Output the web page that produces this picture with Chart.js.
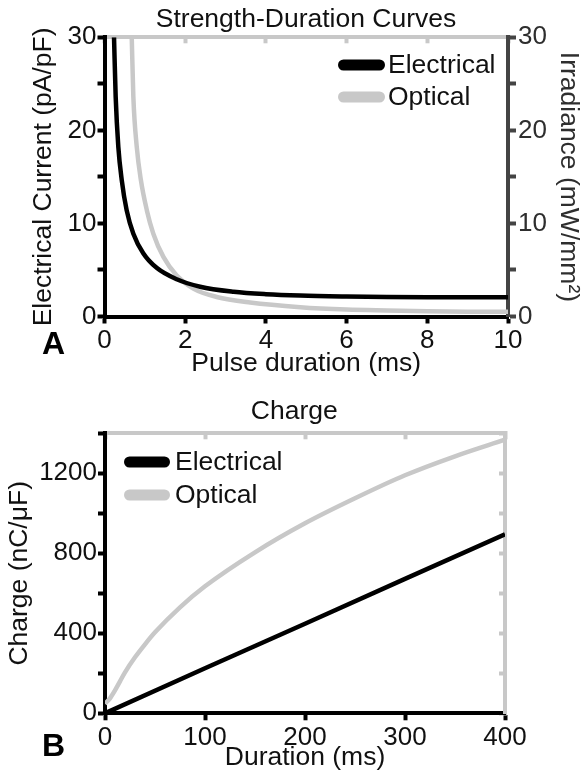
<!DOCTYPE html>
<html>
<head>
<meta charset="utf-8">
<script src="https://cdn.jsdelivr.net/npm/chart.js@4.4.1/dist/chart.umd.min.js"></script>
<style>
html,body{margin:0;padding:0;background:#fff;}
#wrap{position:relative;width:582px;height:773px;overflow:hidden;background:#fff;}
canvas{position:absolute;left:0;}
#c1{top:0;}
#c2{top:390px;}
.panel{position:absolute;font:bold 32px "Liberation Sans",Arial,sans-serif;color:#000;line-height:32px;}
</style>
</head>
<body>
<div id="wrap">
<canvas id="c1" width="582" height="390"></canvas>
<canvas id="c2" width="582" height="383"></canvas>
<div class="panel" style="left:42px;top:327px;">A</div>
<div class="panel" style="left:42px;top:729px;">B</div>
</div>
<script>
// ---- Panel A: strength-duration curves ----
const sdElecT = [0.236, 0.277, 0.343, 0.426, 0.55, 0.715, 0.96, 1.3, 1.79, 2.37, 3.2, 4.0, 4.85, 6, 7, 8, 9, 10];
const sdElecI = [30, 23.6, 18.2, 14.7, 11.4, 8.9, 6.8, 5.2, 4.0, 3.2, 2.66, 2.4, 2.25, 2.15, 2.1, 2.08, 2.08, 2.08];
const sdOptT = [0.675, 0.715, 0.8, 0.9, 1.05, 1.21, 1.46, 1.79, 2.2, 2.78, 3.61, 4.85, 6, 7, 8, 9, 10];
const sdOptI = [30, 23.6, 18.2, 14.7, 11.4, 8.9, 6.4, 4.4, 3.0, 2.1, 1.5, 1.0, 0.75, 0.65, 0.57, 0.52, 0.5];
const sdXTicks = [0, 2, 4, 6, 8, 10];
const sdYLabels = [0, 10, 20, 30];

// ---- Panel B: charge ----
const qElecT = [0, 100, 200, 300, 400];
const qElecQ = [0, 225, 448, 672, 895];
const qOptT = [0, 5, 10, 15, 20, 30, 40, 50, 75, 100, 150, 200, 250, 300, 350, 400];
const qOptQ = [48, 75, 115, 160, 205, 280, 345, 405, 530, 635, 805, 950, 1075, 1190, 1285, 1368];
const qXTicks = [0, 100, 200, 300, 400];
const qYLabels = [0, 400, 800, 1200];

const FONT = '"Liberation Sans", Arial, Helvetica, sans-serif';
Chart.defaults.font.family = FONT;
Chart.defaults.color = '#111';
const BLACK = '#000000';
const GREY = '#c8c8c8';
const DARK = '#444444';
const TXT = '#111111';

const pts = (xs, ys) => xs.map((x, i) => ({x: x, y: ys[i]}));

const insideLegend = {
  id: 'insideLegend',
  afterDatasetsDraw(chart, args, o) {
    const ctx = chart.ctx, ca = chart.chartArea;
    ctx.save();
    chart.data.datasets.forEach((ds, i) => {
      const y = ca.top + o.y0 + i * o.dy;
      const x0 = ca.left + o.x0;
      ctx.strokeStyle = ds.borderColor;
      ctx.lineWidth = o.thick;
      ctx.lineCap = 'round';
      ctx.beginPath();
      ctx.moveTo(x0 + o.thick / 2, y);
      ctx.lineTo(x0 + o.len - o.thick / 2, y);
      ctx.stroke();
      ctx.fillStyle = TXT;
      ctx.font = o.size + 'px ' + FONT;
      ctx.textBaseline = 'middle';
      ctx.textAlign = 'left';
      ctx.fillText(ds.label, x0 + o.len + o.gap, y + 1);
    });
    ctx.restore();
  }
};

function labelOnly(list) {
  return function (v) { return list.includes(v) ? String(v) : ''; };
}

// Panel A
new Chart(document.getElementById('c1'), {
  type: 'line',
  data: {
    datasets: [
      {label: 'Electrical', data: pts(sdElecT, sdElecI), borderColor: BLACK, borderWidth: 4.5,
       pointRadius: 0, cubicInterpolationMode: 'monotone', fill: false, xAxisID: 'x', yAxisID: 'y'},
      {label: 'Optical', data: pts(sdOptT, sdOptI), borderColor: GREY, borderWidth: 4.5,
       pointRadius: 0, cubicInterpolationMode: 'monotone', fill: false, xAxisID: 'x', yAxisID: 'y2'}
    ]
  },
  options: {
    responsive: false, animation: false,
    layout: {padding: {left: 30, right: 0, top: 0, bottom: 0}},
    plugins: {
      legend: {display: false}, tooltip: {enabled: false},
      title: {display: true, text: 'Strength-Duration Curves', color: TXT,
              font: {size: 26.5, weight: 'normal', lineHeight: 1.2}, padding: {top: 4, bottom: 1.5}},
      insideLegend: {x0: 233.5, len: 47, thick: 11, y0: 27.7, dy: 32, gap: 3, size: 26.5}
    },
    scales: {
      x: {
        type: 'linear', position: 'bottom', min: 0, max: 10,
        afterBuildTicks: s => { s.ticks = sdXTicks.map(v => ({value: v})); },
        ticks: {padding: 2, font: {size: 26}, color: TXT, maxRotation: 0, autoSkip: false},
        grid: {drawOnChartArea: false, drawTicks: true, tickLength: 7, tickWidth: 4, tickColor: BLACK},
        border: {color: BLACK, width: 4},
        title: {display: true, text: 'Pulse duration (ms)', color: TXT, font: {size: 26.5, lineHeight: 1}, padding: {top: 0, bottom: 12.75}},
        afterFit: s => { s.height = 73.5; }
      },
      x2: {
        type: 'linear', position: 'top', min: 0, max: 10,
        afterBuildTicks: s => { s.ticks = sdXTicks.map(v => ({value: v})); },
        ticks: {display: false},
        grid: {drawOnChartArea: false, drawTicks: true, tickLength: -6, tickWidth: 4, tickColor: GREY},
        border: {color: GREY, width: 4},
        afterFit: s => { s.height = 0; }
      },
      y: {
        type: 'linear', position: 'left', min: 0, max: 30,
        ticks: {stepSize: 5, padding: 1, font: {size: 26}, color: TXT, callback: labelOnly(sdYLabels)},
        grid: {drawOnChartArea: false, drawTicks: true, tickLength: 7, tickWidth: 4, tickColor: BLACK},
        border: {color: BLACK, width: 4},
        title: {display: true, text: 'Electrical Current (pA/pF)', color: TXT, font: {size: 26.5, lineHeight: 1}, padding: {top: 0, bottom: 0}},
        afterFit: s => { s.width = 74.5; }
      },
      y2: {
        type: 'linear', position: 'right', min: 0, max: 30,
        ticks: {stepSize: 5, padding: 2, font: {size: 26}, color: '#2e2e2e', callback: labelOnly(sdYLabels)},
        grid: {drawOnChartArea: false, drawTicks: true, tickLength: 8, tickWidth: 4, tickColor: DARK},
        border: {color: DARK, width: 4},
        title: {display: true, text: 'Irradiance (mW/mm²)', color: '#2e2e2e', font: {size: 26.5, lineHeight: 1}, padding: {top: 0, bottom: 0}},
        afterFit: s => { s.width = 74; }
      }
    }
  },
  plugins: [insideLegend]
});

// Panel B
new Chart(document.getElementById('c2'), {
  type: 'line',
  data: {
    datasets: [
      {label: 'Electrical', data: pts(qElecT, qElecQ), borderColor: BLACK, borderWidth: 4.5,
       pointRadius: 0, tension: 0, fill: false, xAxisID: 'x', yAxisID: 'y'},
      {label: 'Optical', data: pts(qOptT, qOptQ), borderColor: GREY, borderWidth: 4.5,
       pointRadius: 0, cubicInterpolationMode: 'monotone', fill: false, xAxisID: 'x', yAxisID: 'y'}
    ]
  },
  options: {
    responsive: false, animation: false,
    layout: {padding: {left: 6.6, right: 0, top: 0, bottom: 0}},
    plugins: {
      legend: {display: false}, tooltip: {enabled: false},
      title: {display: true, text: 'Charge', color: TXT,
              font: {size: 26.5, weight: 'normal', lineHeight: 1.2}, padding: {top: 6, bottom: 5.5}},
      insideLegend: {x0: 19, len: 46, thick: 11, y0: 28.7, dy: 33, gap: 5, size: 26.5}
    },
    scales: {
      x: {
        type: 'linear', position: 'bottom', min: 0, max: 400,
        afterBuildTicks: s => { s.ticks = qXTicks.map(v => ({value: v})); },
        ticks: {padding: 2, font: {size: 26}, color: TXT, maxRotation: 0, autoSkip: false},
        grid: {drawOnChartArea: false, drawTicks: true, tickLength: 7, tickWidth: 4, tickColor: BLACK},
        border: {color: BLACK, width: 4},
        title: {display: true, text: 'Duration (ms)', color: TXT, font: {size: 26.5, lineHeight: 1}, padding: {top: 0, bottom: 1.75}},
        afterFit: s => { s.height = 59.7; }
      },
      x2: {
        type: 'linear', position: 'top', min: 0, max: 400,
        afterBuildTicks: s => { s.ticks = qXTicks.map(v => ({value: v})); },
        ticks: {display: false},
        grid: {drawOnChartArea: false, drawTicks: true, tickLength: -6, tickWidth: 4, tickColor: GREY},
        border: {color: GREY, width: 4},
        afterFit: s => { s.height = 0; }
      },
      y: {
        type: 'linear', position: 'left', min: 0, max: 1400,
        ticks: {stepSize: 200, padding: 1, font: {size: 26}, color: TXT, callback: labelOnly(qYLabels)},
        grid: {drawOnChartArea: false, drawTicks: true, tickLength: 7, tickWidth: 4, tickColor: BLACK},
        border: {color: BLACK, width: 4},
        title: {display: true, text: 'Charge (nC/μF)', color: TXT, font: {size: 26.5, lineHeight: 1}, padding: {top: 0, bottom: 0}},
        afterFit: s => { s.width = 98.4; }
      },
      y2: {
        type: 'linear', position: 'right', min: 0, max: 1400,
        ticks: {display: false, stepSize: 200},
        grid: {drawOnChartArea: false, drawTicks: true, tickLength: -6, tickWidth: 4, tickColor: GREY},
        border: {color: GREY, width: 4},
        afterFit: s => { s.width = 77; }
      }
    }
  },
  plugins: [insideLegend]
});
</script>
</body>
</html>
